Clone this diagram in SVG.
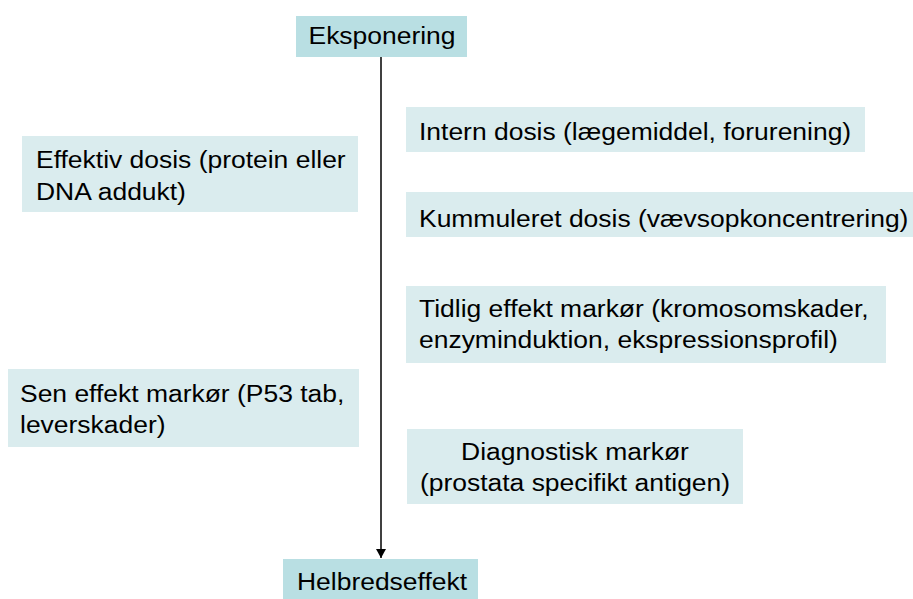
<svg xmlns="http://www.w3.org/2000/svg" width="913" height="599" viewBox="0 0 913 599">
  <style>
    .dark { fill: #b9dfe3; }
    .light { fill: #daecee; }
    text { font-family: "Liberation Sans", Arial, sans-serif; font-size: 24.5px; fill: #000; }
    .c { text-anchor: middle; }
  </style>
  <defs>
    <marker id="arrow" markerWidth="9" markerHeight="10" refX="9" refY="5" orient="auto" markerUnits="userSpaceOnUse">
      <path d="M0,0 L9,5 L0,10 Z" fill="#000"/>
    </marker>
  </defs>
  <rect width="913" height="599" fill="#fff"/>

  <g id="connectors">
    <line x1="381" y1="57" x2="381" y2="558" stroke="#000" stroke-width="1.5" marker-end="url(#arrow)"/>
  </g>

  <g id="eksponering">
    <rect class="dark" x="296" y="16" width="171" height="41"/>
    <text class="c" transform="translate(382,44) scale(1.08,1)">Eksponering</text>
  </g>

  <g id="intern">
    <rect class="light" x="406" y="107" width="459" height="45"/>
    <text transform="translate(419,140) scale(1.08,1)">Intern dosis (lægemiddel, forurening)</text>
  </g>

  <g id="effektiv">
    <rect class="light" x="22" y="136" width="336" height="76"/>
    <text transform="translate(36,168) scale(1.08,1)"><tspan x="0" y="0">Effektiv dosis (protein eller</tspan><tspan x="0" y="32">DNA addukt)</tspan></text>
  </g>

  <g id="kummuleret">
    <rect class="light" x="406" y="192" width="507" height="45"/>
    <text transform="translate(419,227) scale(1.08,1)">Kummuleret dosis (vævsopkoncentrering)</text>
  </g>

  <g id="tidlig">
    <rect class="light" x="406" y="286" width="480" height="77"/>
    <text transform="translate(419,316.5) scale(1.08,1)"><tspan x="0" y="0">Tidlig effekt markør (kromosomskader,</tspan><tspan x="0" y="32">enzyminduktion, ekspressionsprofil)</tspan></text>
  </g>

  <g id="sen">
    <rect class="light" x="8" y="369" width="351" height="78"/>
    <text transform="translate(20,401.5) scale(1.08,1)"><tspan x="0" y="0">Sen effekt markør (P53 tab,</tspan><tspan x="0" y="32">leverskader)</tspan></text>
  </g>

  <g id="diagnostisk">
    <rect class="light" x="407" y="429" width="336" height="75"/>
    <text class="c" transform="translate(575,460) scale(1.08,1)"><tspan x="0" y="0">Diagnostisk markør</tspan><tspan x="0" y="31">(prostata specifikt antigen)</tspan></text>
  </g>

  <g id="helbredseffekt">
    <rect class="dark" x="283" y="559" width="195" height="40"/>
    <text class="c" transform="translate(382,590) scale(1.08,1)">Helbredseffekt</text>
  </g>
</svg>
